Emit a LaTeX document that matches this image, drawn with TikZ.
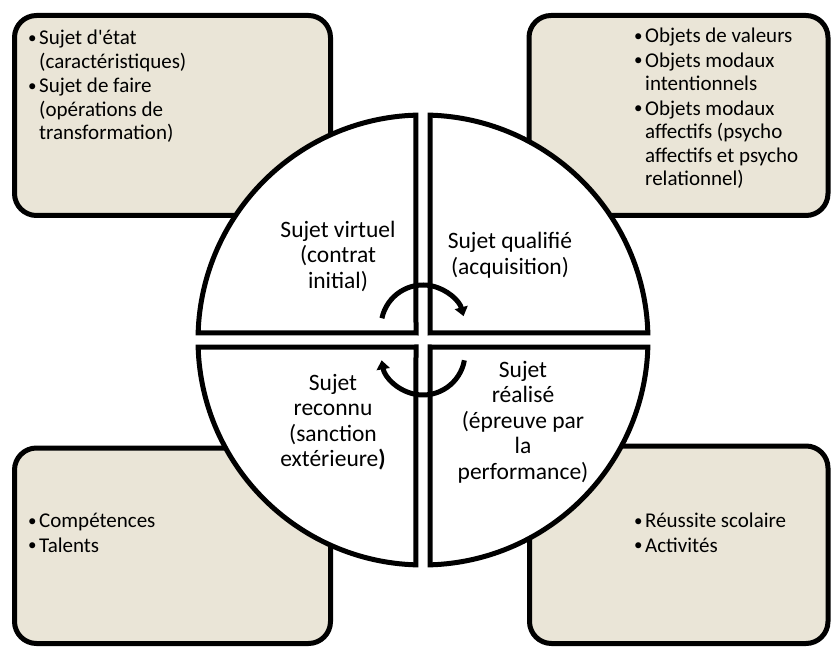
\documentclass[tikz,border=0pt]{standalone}
\usepackage{fontspec}
\setmainfont{Carlito}
\usetikzlibrary{arrows.meta}
\definecolor{boxfill}{RGB}{234,229,215}
\newcommand{\bul}{\makebox[11pt][l]{\raisebox{1.5pt}{\fontsize{17}{17}\selectfont •}}}
\newcommand{\ind}{\hspace*{11pt}}
\begin{document}
\begin{tikzpicture}[x=1pt,y=-1pt,
  infobox/.style={draw=black,line width=5pt,fill=boxfill,rounded corners=22pt},
  wedge/.style={draw=black,line width=5pt,fill=white},
  ctext/.style={align=center,inner sep=0pt,font=\fontsize{23.5}{25.5}\selectfont},
  btext/.style={align=left,inner sep=0pt,anchor=north west,font=\fontsize{21}{23.5}\selectfont},
  cyc/.style={line width=5pt,-{Triangle[length=9pt,width=13pt]}}]
\useasboundingbox (0,0) rectangle (831,647);
% boxes
\draw[infobox] (14.5,15.5) rectangle (330.5,215.5);
\draw[infobox] (529,15.5) rectangle (828,215.5);
\draw[infobox] (14.5,448) rectangle (330.5,643.5);
\draw[infobox] (529.5,446) rectangle (828,643.5);
% circle quadrants
\coordinate (C) at (423,340);
\draw[wedge] (416,333) -- ([shift={(268.2:225)}]C) arc[start angle=268.2,end angle=181.8,radius=225] -- cycle;
\draw[wedge] (430,333) -- ([shift={(271.8:225)}]C) arc[start angle=271.8,end angle=358.2,radius=225] -- cycle;
\draw[wedge] (430,347) -- ([shift={(1.8:225)}]C) arc[start angle=1.8,end angle=88.2,radius=225] -- cycle;
\draw[wedge] (416,347) -- ([shift={(91.8:225)}]C) arc[start angle=91.8,end angle=178.2,radius=225] -- cycle;
% cycle arrows
\coordinate (ta) at (423,327);
\coordinate (ba) at (423,353);
\draw[cyc] ([shift={(192:42)}]ta) arc[start angle=192,end angle=345,radius=42];
\draw[cyc] ([shift={(10:42)}]ba) arc[start angle=10,end angle=170,radius=42];
% circle texts
\node[ctext] (virt) at (338,256) {Sujet virtuel\\(contrat\\initial)};
\node[ctext] (qual) at (510,255) {Sujet qualifié\\(acquisition)};
\node[ctext] (reco) at (333,422) {Sujet\\reconnu\\(sanction\\extérieure\textbf{)}};
\node[ctext] (real) at (523,422) {Sujet\\réalisé\\(épreuve par\\la\\performance)};
% box texts
\node[btext] (tl) at (28,30) {\bul Sujet d\textquotesingle état\\\ind(caractéristiques)\\[1pt]\bul Sujet de faire\\\ind(opérations de\\\ind transformation)};
\node[btext] (tr) at (634,28) {\bul Objets de valeurs\\[1pt]\bul Objets modaux\\\ind intentionnels\\[1pt]\bul Objets modaux\\\ind affectifs (psycho\\\ind affectifs et psycho\\\ind relationnel)};
\node[btext] (bl) at (28,513) {\bul Compétences\\[1pt]\bul Talents};
\node[btext] (br) at (634,513) {\bul Réussite scolaire\\[1pt]\bul Activités};
\end{tikzpicture}
\end{document}
